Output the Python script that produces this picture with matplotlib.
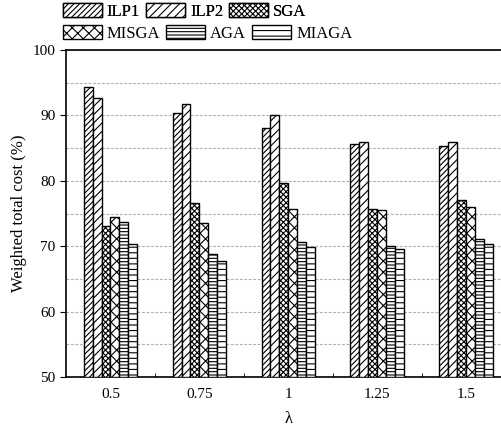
import matplotlib
matplotlib.use("Agg")
import matplotlib.pyplot as plt
import numpy as np
from matplotlib.ticker import MultipleLocator, FixedLocator

categories = ["0.5", "0.75", "1", "1.25", "1.5"]
series_names = ["ILP1", "ILP2", "SGA", "MISGA", "AGA", "MIAGA"]
ILP1 = [94.3, 90.4, 88.0, 85.6, 85.3]
ILP2 = [92.7, 91.7, 90.0, 85.9, 85.9]
SGA = [73.1, 76.6, 79.6, 75.7, 77.0]
MISGA = [74.4, 73.6, 75.7, 75.5, 76.0]
AGA = [73.7, 68.8, 70.7, 70.1, 71.1]
MIAGA = [70.4, 67.7, 69.9, 69.5, 70.4]
values = [ILP1, ILP2, SGA, MISGA, AGA, MIAGA]
hatches = ["//////", "////", "xxxxxx", "xxx", "-----", "---"]

plt.rcParams['font.family'] = ['Liberation Serif', 'DejaVu Serif']
plt.rcParams['hatch.linewidth'] = 0.8

fig = plt.figure(figsize=(5.02, 4.32), dpi=100)
ax = fig.add_axes([66/502, 55/432, (510.5-66)/502, 327/432])

x = np.arange(len(categories))
w = 0.1
handles = []
for i, (name, vals, h) in enumerate(zip(series_names, values, hatches)):
    b = ax.bar(x + (i - 2.5) * w, np.array(vals) - 50, w, bottom=50,
               facecolor='white', edgecolor='black', linewidth=1.0,
               hatch=h, label=name, zorder=3)
    handles.append(b)

ax.set_xlim(-0.5, 4.5)
ax.set_ylim(50, 100)
ax.set_xticks(x)
ax.set_xticklabels(categories, fontsize=11)
ax.tick_params(axis='x', length=0, pad=8)
ax.xaxis.set_minor_locator(FixedLocator(np.arange(0.5, 4.5, 1.0)))
ax.tick_params(axis='x', which='minor', direction='in', length=3)
ax.yaxis.set_major_locator(MultipleLocator(10))
ax.yaxis.set_minor_locator(MultipleLocator(5))
ax.tick_params(axis='y', which='major', direction='out', length=4, labelsize=11)
ax.tick_params(axis='y', which='minor', length=0)
ax.grid(axis='y', which='both', linestyle=(0, (2.5, 1.5)), color='#b0b0b0', linewidth=0.8, zorder=0)
ax.set_axisbelow(True)
for s in ax.spines.values():
    s.set_linewidth(1.2)

ax.set_ylabel("Weighted total cost (%)", fontsize=12, labelpad=4)
ax.set_xlabel("λ", fontsize=12, labelpad=7)

common = dict(loc='upper left', ncol=3, frameon=False, fontsize=12,
              handlelength=2.35, handleheight=0.95, handletextpad=0.3,
              columnspacing=0.35, borderpad=0.1, borderaxespad=0.0)
leg1 = fig.legend(handles[:3], series_names[:3],
                  bbox_to_anchor=(61/502, 1.0 - 1/432), **common)
fig.add_artist(leg1)
leg2 = fig.legend(handles[3:], series_names[3:],
                  bbox_to_anchor=(61/502, 1.0 - 23/432), **common)

fig.savefig("out.png", dpi=100)
